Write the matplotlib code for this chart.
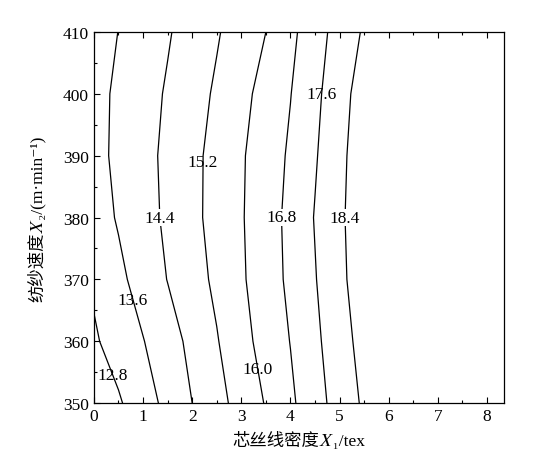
import matplotlib
matplotlib.use("Agg")
import matplotlib.pyplot as plt
import numpy as np

# 芯丝线密度 X1 (tex) 与 纺纱速度 X2 (m/min) 网格
x1 = [0.0, 0.5, 1.0, 1.5, 2.0, 2.5, 3.0, 3.5, 4.0, 4.5, 5.0, 5.5]
x2 = [350, 360, 370, 380, 390, 400, 410]

# 响应值
z_350 = [12.17, 12.71, 13.25, 13.81, 14.40, 14.94, 15.49, 16.05, 16.66, 17.30, 17.92, 18.52]
z_360 = [12.70, 13.13, 13.57, 14.07, 14.60, 15.15, 15.74, 16.29, 16.82, 17.44, 18.06, 18.69]
z_370 = [12.92, 13.42, 13.92, 14.42, 14.88, 15.36, 15.90, 16.42, 16.96, 17.56, 18.21, 18.85]
z_380 = [13.24, 13.67, 14.10, 14.54, 15.00, 15.47, 15.94, 16.45, 17.00, 17.64, 18.26, 18.89]
z_390 = [13.36, 13.76, 14.15, 14.57, 15.00, 15.45, 15.92, 16.40, 16.91, 17.53, 18.20, 18.87]
z_400 = [13.36, 13.73, 14.10, 14.48, 14.89, 15.31, 15.78, 16.27, 16.78, 17.42, 18.09, 18.77]
z_410 = [13.26, 13.61, 13.97, 14.33, 14.73, 15.13, 15.57, 16.00, 16.61, 17.27, 17.91, 18.49]

levels = [12.8, 13.6, 14.4, 15.2, 16.0, 16.8, 17.6, 18.4]
# 标注位置 (近似)
label_pos = [(0.3, 354), (0.65, 366), (1.35, 380), (2.2, 389),
             (3.35, 355.5), (3.85, 380), (4.62, 400), (5.12, 380)]
masked = [14.4, 16.8, 18.4]  # 这几个标注把线断开

Z = np.array([z_350, z_360, z_370, z_380, z_390, z_400, z_410])
X, Y = np.meshgrid(x1, x2)

serif = ['Liberation Serif', 'Noto Sans CJK SC', 'STIXGeneral', 'DejaVu Serif']

fig = plt.figure(figsize=(5.59, 4.64), dpi=100)
ax = fig.add_axes([0.168, 0.129, 0.734, 0.800])

cs = ax.contour(X, Y, Z, levels=levels, colors='k', linewidths=0.9)
texts = ax.clabel(cs, levels=levels, inline=False, fmt='%.1f', fontsize=12.5,
                  manual=label_pos)
for t in texts:
    t.set_rotation(0)
    t.set_family(serif)
    if float(t.get_text()) in masked:
        t.set_bbox(dict(fc='white', ec='none', pad=0.3))

ax.set_xlim(0, 8.35)
ax.set_ylim(350, 410)
ax.set_xticks(range(0, 9))
ax.set_xticks(np.arange(0.5, 8.35, 1.0), minor=True)
ax.set_yticks(range(350, 411, 10))
ax.set_yticks(range(355, 410, 10), minor=True)
ax.tick_params(which='both', direction='in', top=True, right=False)
ax.tick_params(which='major', length=4, width=0.8)
ax.tick_params(which='minor', length=2.5, width=0.8)
for lab in ax.get_xticklabels() + ax.get_yticklabels():
    lab.set_family(serif)
    lab.set_fontsize(12.5)
for sp in ax.spines.values():
    sp.set_linewidth(0.9)

ax.set_xlabel('芯丝线密度𝑋₁/tex', family=serif, fontsize=12.5, labelpad=5)
ax.set_ylabel('纺纱速度𝑋₂/(m·min⁻¹)', family=serif, fontsize=12.5, labelpad=12)

fig.savefig('out.png', dpi=100)
